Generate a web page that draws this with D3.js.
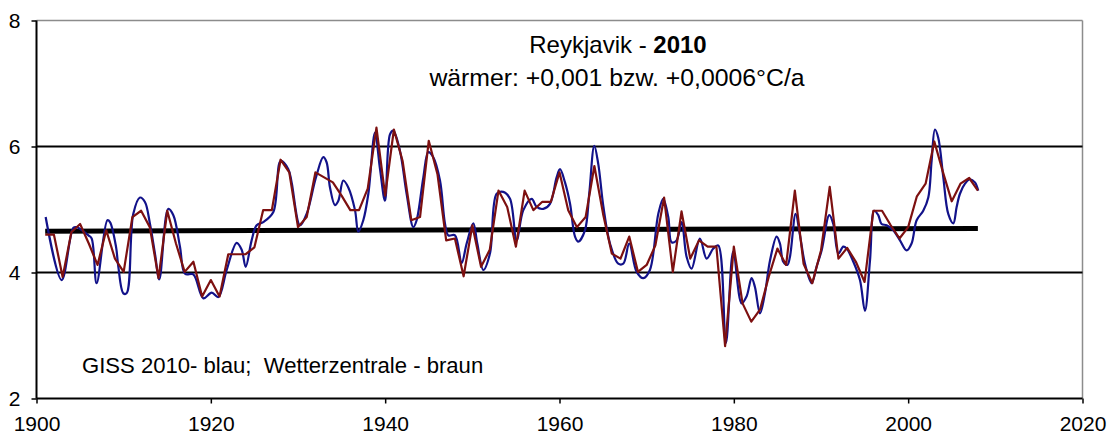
<!DOCTYPE html>
<html>
<head>
<meta charset="utf-8">
<script src="https://cdn.jsdelivr.net/npm/d3@7"></script>
<style>
  body { margin: 0; background: #fff; }
  text { font-family: "Liberation Sans", Arial, sans-serif; fill: #000; }
</style>
</head>
<body>
<div id="chart"></div>
<script>
// Wetterzentrale annual means (brown)
const redYears = d3.range(1901, 2009);
const redValues = [
  4.60, 4.60, 3.93, 4.64, 4.77, 4.46, 4.12, 4.67, 4.22, 4.01,
  4.88, 4.98, 4.72, 3.91, 4.98, 4.46, 4.01, 4.17, 3.62, 3.88,
  3.62, 4.29, 4.29, 4.29, 4.40, 4.99, 4.99, 5.79, 5.59, 4.72,
  4.88, 5.59, 5.51, 5.43, 5.22, 4.99, 4.99, 5.33, 6.30, 5.22,
  6.27, 5.77, 4.83, 4.88, 6.09, 5.56, 4.51, 4.54, 3.94, 4.75,
  4.09, 4.36, 5.30, 5.04, 4.41, 5.30, 4.99, 5.12, 5.12, 5.59,
  4.99, 4.72, 4.88, 5.69, 4.93, 4.30, 4.22, 4.57, 4.01, 4.12,
  4.43, 5.19, 4.01, 4.97, 4.22, 4.51, 4.41, 4.41, 2.83, 4.41,
  3.51, 3.22, 3.41, 3.93, 4.38, 4.12, 5.30, 4.14, 3.83, 4.35,
  5.36, 4.22, 4.39, 4.17, 3.85, 4.98, 4.98, 4.75, 4.54, 4.72,
  5.21, 5.41, 6.08, 5.59, 5.13, 5.41, 5.50, 5.30
];

// GISS 2010 smoothed series (blue)
const blueYears = [
  1901.05, 1902.89, 1904.23, 1904.61, 1905.95, 1906.33, 1906.90, 1908.13, 1908.43, 1909.12,
  1909.39, 1909.96, 1910.34, 1911.10, 1911.87, 1912.44, 1913.02, 1913.59, 1914.09, 1915.12,
  1915.70, 1916.46, 1917.04, 1917.99, 1919.14, 1920.10, 1920.86, 1921.82, 1922.96, 1923.54,
  1924.00, 1924.68, 1925.26, 1926.02, 1927.17, 1928.01, 1928.89, 1929.27, 1930.23, 1930.99,
  1932.06, 1932.90, 1933.28, 1933.67, 1934.24, 1934.63, 1935.20, 1935.77, 1936.54, 1936.92,
  1937.49, 1938.07, 1938.83, 1939.41, 1939.98, 1940.55, 1940.94, 1941.70, 1942.46, 1943.23,
  1943.61, 1944.38, 1944.95, 1945.52, 1946.29, 1946.86, 1947.24, 1948.01, 1948.77, 1949.35,
  1950.11, 1950.57, 1951.26, 1952.02, 1952.79, 1953.55, 1954.32, 1955.08, 1955.85, 1956.81,
  1957.38, 1958.14, 1958.91, 1959.67, 1960.06, 1960.63, 1961.21, 1961.78, 1962.16, 1962.92,
  1963.41, 1963.99, 1964.45, 1965.02, 1965.79, 1966.74, 1967.32, 1968.00, 1968.85, 1969.61,
  1970.37, 1971.33, 1971.90, 1972.48, 1972.86, 1973.43, 1974.01, 1974.58, 1975.15, 1976.11,
  1976.88, 1977.64, 1978.21, 1979.09, 1979.93, 1980.89, 1981.46, 1982.04, 1982.42, 1983.00,
  1983.57, 1984.15, 1984.91, 1985.29, 1985.67, 1986.14, 1986.44, 1987.09, 1987.59, 1988.16,
  1988.93, 1989.49, 1990.07, 1990.95, 1991.41, 1991.99, 1992.56, 1992.94, 1993.71, 1994.47,
  1995.04, 1995.62, 1996.11, 1996.57, 1996.95, 1997.53, 1998.29, 1999.06, 1999.82, 2000.39,
  2000.97, 2001.73, 2002.31, 2002.69, 2003.07, 2003.45, 2004.03, 2004.60, 2005.18, 2005.56,
  2005.94, 2006.52, 2007.09, 2007.66, 2008.04
];
const blueValues = [
  4.88, 3.88, 4.71, 4.72, 4.59, 4.54, 3.83, 4.83, 4.80, 4.41,
  4.09, 3.67, 3.67, 4.93, 5.19, 5.12, 4.77, 4.30, 3.89, 5.01,
  4.91, 4.41, 3.98, 3.97, 3.59, 3.68, 3.61, 4.04, 4.47, 4.36,
  4.09, 4.51, 4.75, 4.80, 4.96, 5.77, 5.64, 5.43, 4.75, 4.93,
  5.51, 5.83, 5.75, 5.35, 5.07, 5.14, 5.46, 5.35, 4.99, 4.65,
  4.83, 5.25, 6.22, 5.64, 5.14, 6.19, 6.25, 5.93, 5.25, 4.72,
  4.83, 5.51, 5.91, 5.83, 5.46, 4.78, 4.59, 4.59, 4.15, 4.46,
  4.78, 4.46, 4.04, 4.30, 5.25, 5.28, 5.17, 4.51, 4.99, 5.17,
  5.04, 5.01, 5.09, 5.51, 5.64, 5.43, 5.09, 4.57, 4.49, 4.67,
  5.25, 6.01, 5.72, 5.06, 4.46, 4.14, 4.14, 4.46, 4.01, 3.91,
  4.04, 4.93, 5.17, 4.88, 4.48, 4.51, 4.80, 4.25, 4.06, 4.54,
  4.22, 4.38, 4.43, 2.88, 4.33, 3.51, 3.62, 3.91, 3.77, 3.35,
  3.67, 4.19, 4.57, 4.46, 4.17, 4.12, 4.25, 4.93, 4.59, 4.14,
  3.83, 4.09, 4.35, 4.91, 4.77, 4.30, 4.41, 4.38, 4.17, 3.88,
  3.39, 4.19, 4.98, 4.91, 4.77, 4.75, 4.67, 4.51, 4.35, 4.46,
  4.83, 4.98, 5.19, 5.77, 6.27, 6.14, 5.51, 4.93, 4.78, 5.04,
  5.25, 5.41, 5.48, 5.43, 5.30
];

// linear trend (thick black)
const trendYears = [1901, 2008];
const trendValues = [4.655, 4.70];

const xTicks = [1900, 1920, 1940, 1960, 1980, 2000, 2020];
const yTicks = [2, 4, 6, 8];

const width = 1109;
const height = 441;

let svg = d3.select("#chart")
  .append("svg")
  .attr("width", width)
  .attr("height", height);

let x = d3.scaleLinear().domain([1900, 2020]).range([36.5, 1082.5]);
let y = d3.scaleLinear().domain([2, 8]).range([398.5, 20.5]);

// plot frame: gray top and right edge
svg.append("line")
  .attr("x1", x(1900)).attr("x2", x(2020))
  .attr("y1", y(8)).attr("y2", y(8))
  .attr("stroke", "#8c8c8c").attr("stroke-width", 1.5);
svg.append("line")
  .attr("x1", x(2020)).attr("x2", x(2020))
  .attr("y1", y(8)).attr("y2", y(2))
  .attr("stroke", "#8c8c8c").attr("stroke-width", 1.5);

// gridlines at 4 and 6
svg.append("g")
  .selectAll("line")
  .data(yTicks.filter(d => d > 2 && d < 8))
  .enter()
    .append("line")
    .attr("x1", x(1900)).attr("x2", x(2020))
    .attr("y1", d => y(d)).attr("y2", d => y(d))
    .attr("stroke", "#000").attr("stroke-width", 1.8);

// axes
let yAxis = svg.append("g")
  .attr("transform", `translate(${x(1900)},0)`)
  .call(d3.axisLeft(y).tickValues(yTicks).tickSize(5).tickPadding(11).tickFormat(d3.format("d")));
let xAxis = svg.append("g")
  .attr("transform", `translate(0,${y(2)})`)
  .call(d3.axisBottom(x).tickValues(xTicks).tickSize(5).tickPadding(13).tickFormat(d3.format("d")));

[yAxis, xAxis].forEach(axis => {
  axis.select(".domain").attr("stroke", "#000").attr("stroke-width", 2);
  axis.selectAll(".tick line").attr("stroke", "#000").attr("stroke-width", 1.5);
  axis.selectAll(".tick text")
    .attr("fill", "#000")
    .style("font-family", "'Liberation Sans', Arial, sans-serif")
    .style("font-size", "21px");
});
yAxis.select(".domain").attr("d", `M0,${y(8)}V${y(2)}`);
xAxis.select(".domain").attr("d", `M${x(1900)},0H${x(2020)}`);

// trend line
let trendLine = d3.line()
  .x((d, i) => x(trendYears[i]))
  .y(d => y(d));
svg.append("path")
  .attr("d", trendLine(trendValues))
  .attr("fill", "none")
  .attr("stroke", "#000")
  .attr("stroke-width", 5);

// GISS series (blue)
let blueLine = d3.line()
  .x((d, i) => x(blueYears[i]))
  .y(d => y(d))
  .curve(d3.curveCatmullRom.alpha(0.5));
svg.append("path")
  .attr("d", blueLine(blueValues))
  .attr("fill", "none")
  .attr("stroke", "#12128a")
  .attr("stroke-width", 2.2)
  .attr("stroke-linejoin", "round");

// Wetterzentrale series (brown)
let redLine = d3.line()
  .x((d, i) => x(redYears[i]))
  .y(d => y(d));
svg.append("path")
  .attr("d", redLine(redValues))
  .attr("fill", "none")
  .attr("stroke", "#7d1010")
  .attr("stroke-width", 2.2)
  .attr("stroke-linejoin", "round");

// titles
let title = svg.append("text")
  .attr("x", 618)
  .attr("y", 53)
  .attr("text-anchor", "middle")
  .style("font-size", "24px");
title.append("tspan").text("Reykjavik - ");
title.append("tspan").attr("font-weight", "bold").text("2010");

svg.append("text")
  .attr("x", 617)
  .attr("y", 86)
  .attr("text-anchor", "middle")
  .style("font-size", "24.8px")
  .text("wärmer: +0,001 bzw. +0,0006°C/a");

svg.append("text")
  .attr("x", 82)
  .attr("y", 373)
  .style("font-size", "22.1px")
  .style("white-space", "pre")
  .text("GISS 2010- blau;  Wetterzentrale - braun");
</script>
</body>
</html>
